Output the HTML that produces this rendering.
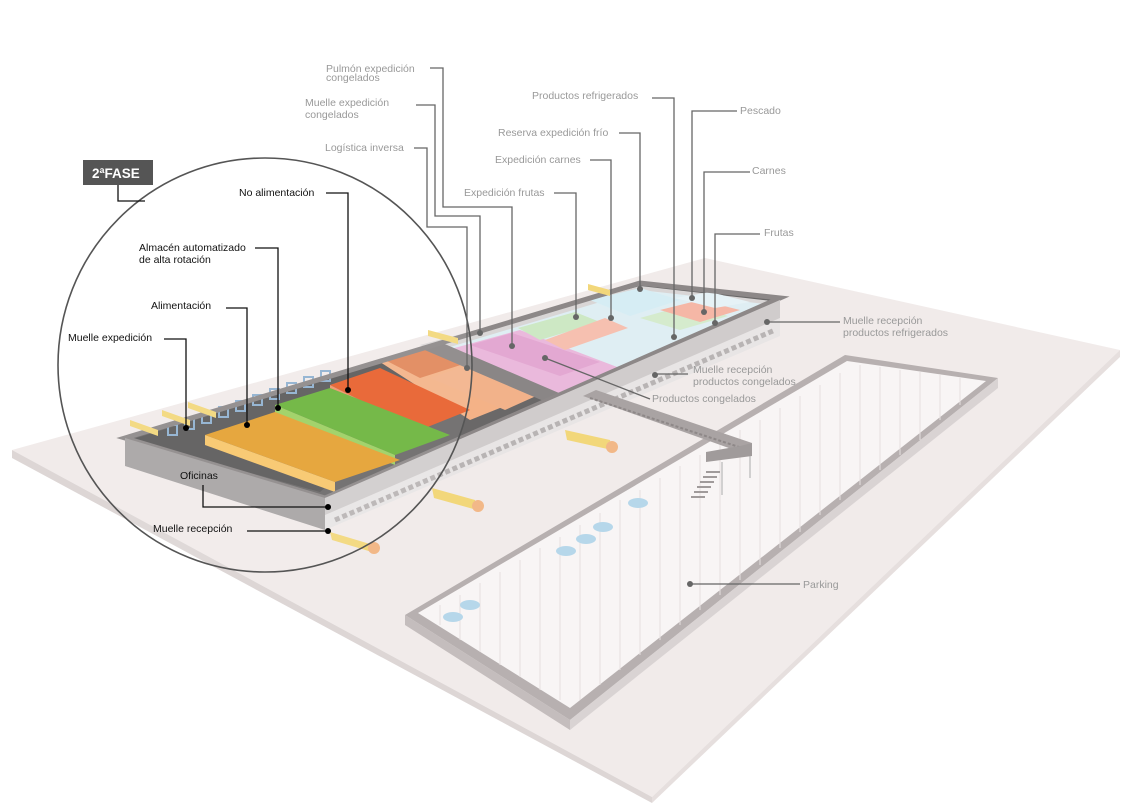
<!DOCTYPE html>
<html><head><meta charset="utf-8"><style>
html,body{margin:0;padding:0;background:#fff;}
svg{display:block;}
text{font-family:"Liberation Sans",sans-serif;font-size:10.5px;}
.g{fill:#999;}
.k{fill:#111;}
.lg{stroke:#666;stroke-width:1.3;fill:none;}
.lk{stroke:#111;stroke-width:1.3;fill:none;}
</style></head><body>
<svg width="1143" height="803" viewBox="0 0 1143 803" xmlns="http://www.w3.org/2000/svg">
<!-- ground -->
<polygon points="12,450 705,258 1120,350 652,797" fill="#f1ebea"/>
<polygon points="12,450 652,797 652,803 12,458" fill="#ddd6d5"/>
<polygon points="652,797 1120,350 1120,357 652,803" fill="#e6dfde"/>

<!-- warehouse -->
<polygon points="125,438 640,283 780,298 325,498" fill="#6a6868"/>
<polygon points="420,345 640,286 772,301 560,402" fill="#d9d6d6"/>
<polygon points="440,350 640,290 765,304 570,392" fill="#dfeef3"/>
<polygon points="440,352 520,330 625,370 545,400" fill="#eab9dc"/>
<polygon points="470,345 512,333 600,362 560,376" fill="#e3a8d2"/>
<polygon points="518,328 575,312 600,322 540,340" fill="#cde8c4"/>
<polygon points="545,340 605,318 628,328 565,350" fill="#f6c0b0"/>
<polygon points="590,300 640,288 680,300 630,316" fill="#d6edf4"/>
<polygon points="640,318 690,304 728,316 680,330" fill="#d5ebcd"/>
<polygon points="660,310 700,300 740,310 700,322" fill="#f5b7a6"/>
<polygon points="675,298 710,292 750,302 715,308" fill="#e6f2f6"/>
<polygon points="130,440 420,350 470,360 320,492" fill="#5a5858"/>
<polygon points="380,362 430,346 540,392 470,420" fill="#f4b287"/>
<polygon points="385,360 430,348 470,362 420,378" fill="#e1875a"/>
<polygon points="430,378 470,364 545,392 505,410" fill="#f2b28a"/>
<polygon points="330,385 380,368 470,410 420,430" fill="#e85e2a"/>
<polygon points="330,385 420,430 420,440 330,395" fill="#f0936b"/>
<polygon points="275,405 330,388 450,435 395,455" fill="#6ab43a"/>
<polygon points="275,405 395,455 395,465 275,415" fill="#9cd060"/>
<polygon points="205,435 275,412 400,460 335,482" fill="#e4a02f"/>
<polygon points="205,435 335,482 335,492 205,445" fill="#f8c66a"/>
<g fill="none" stroke="#8fb0d0" stroke-width="2">
<rect x="168" y="425" width="9" height="10"/><rect x="185" y="419" width="9" height="10"/><rect x="202" y="413" width="9" height="10"/>
<rect x="219" y="407" width="9" height="10"/><rect x="236" y="401" width="9" height="10"/><rect x="253" y="395" width="9" height="10"/>
<rect x="270" y="389" width="9" height="10"/><rect x="287" y="383" width="9" height="10"/><rect x="304" y="377" width="9" height="10"/><rect x="321" y="371" width="9" height="10"/>
</g>
<polygon points="420,348 440,342 580,402 560,408" fill="#8a8686"/>
<polygon points="125,438 640,283 780,298 325,498" fill="none" stroke="#8d8888" stroke-width="5"/>
<polygon points="125,438 325,498 325,530 125,466" fill="#a7a3a3"/>
<polygon points="325,498 780,318 780,336 325,530" fill="#e8e5e5"/>
<polygon points="325,498 780,300 780,318 325,515" fill="#d0cccc"/>
<path d="M335,520 L775,330" stroke="#b8b4b4" stroke-width="5" stroke-dasharray="5,3" fill="none"/>

<!-- parking -->
<polygon points="405,615 845,355 998,378 570,720" fill="#b7b0b0"/>
<polygon points="405,615 570,720 570,730 405,625" fill="#c4bdbd"/>
<polygon points="570,720 998,378 998,388 570,730" fill="#d9d3d3"/>
<polygon points="418,613 847,361 986,381 570,708" fill="#f8f5f5"/>
<g stroke="#e6e0e0" stroke-width="1">
<path d="M440,605V625M460,595V640M480,583V652M500,572V665M520,560V677M540,548V690M560,537V700M580,525V700M600,513V685M620,500V670M640,490V655M660,478V640M680,466V625M700,455V610M720,443V595M740,430V580M760,420V565M780,408V548M800,396V532M820,385V515M840,373V500M860,365V485M880,367V470M900,370V455M920,372V440M940,375V420M960,378V405"/>
</g>
<!-- bridge -->
<polygon points="583,396 596,390 752,443 740,452" fill="#a9a3a3"/>
<path d="M590,398 L742,448" stroke="#8e8888" stroke-width="2" stroke-dasharray="3,2"/>
<polygon points="706,452 740,446 752,443 752,456 706,462" fill="#a09b9b"/>
<line x1="750" y1="456" x2="750" y2="478" stroke="#aaa"/>
<line x1="722" y1="462" x2="722" y2="495" stroke="#aaa"/>
<g stroke="#a09b9b" stroke-width="2">
<path d="M706,472h14M703,477h14M700,482h14M697,487h14M694,492h14M691,497h14"/>
</g>
<!-- cars -->
<g fill="#b6d7ea">
<ellipse cx="638" cy="503" rx="10" ry="5"/><ellipse cx="603" cy="527" rx="10" ry="5"/><ellipse cx="586" cy="539" rx="10" ry="5"/><ellipse cx="566" cy="551" rx="10" ry="5"/>
<ellipse cx="470" cy="605" rx="10" ry="5"/><ellipse cx="453" cy="617" rx="10" ry="5"/>
</g>
<!-- trucks -->
<g fill="#f2d77a">
<polygon points="565,430 610,440 612,450 567,440"/>
<polygon points="432,488 475,500 477,510 434,498"/>
<polygon points="330,532 370,544 372,552 332,540"/>
<polygon points="130,420 158,430 158,436 130,426"/>
<polygon points="162,410 190,420 190,426 162,416"/>
<polygon points="188,402 216,412 216,418 188,408"/>
<polygon points="428,330 458,338 458,344 428,336"/>
<polygon points="588,284 610,290 610,296 588,290"/>
</g>
<g fill="#f2b888"><circle cx="612" cy="447" r="6"/><circle cx="478" cy="506" r="6"/><circle cx="374" cy="548" r="6"/></g>

<circle cx="265" cy="365" r="207" fill="rgba(255,255,255,0.08)" stroke="#555" stroke-width="1.6"/>

<rect x="83" y="160" width="70" height="25" fill="#555"/>
<text x="92" y="178" fill="#fff" style="font-size:13.5px;font-weight:bold">2ªFASE</text>
<path d="M118,185V201H145" class="lk" stroke="#555"/>

<text class="k" x="239" y="196">No alimentación</text>
<path class="lk" d="M326,193H348V389"/><circle cx="348" cy="390" r="3"/>
<text class="k" x="139" y="251">Almacén automatizado</text>
<text class="k" x="139" y="263">de alta rotación</text>
<path class="lk" d="M255,248H278V407"/><circle cx="278" cy="408" r="3"/>
<text class="k" x="151" y="309">Alimentación</text>
<path class="lk" d="M226,308H247V424"/><circle cx="247" cy="425" r="3"/>
<text class="k" x="68" y="341">Muelle expedición</text>
<path class="lk" d="M164,339H186V427"/><circle cx="186" cy="428" r="3"/>
<text class="k" x="180" y="479">Oficinas</text>
<path class="lk" d="M203,485V507H328"/><circle cx="328" cy="507" r="3"/>
<text class="k" x="153" y="532">Muelle recepción</text>
<path class="lk" d="M247,531H328"/><circle cx="328" cy="531" r="3"/>

<g fill="#666">
<text class="g" x="326" y="72">Pulmón expedición</text><text class="g" x="326" y="81">congelados</text>
<path class="lg" d="M430,68H443V207H512V345"/><circle cx="512" cy="346" r="3"/>
<text class="g" x="305" y="106">Muelle expedición</text><text class="g" x="305" y="118">congelados</text>
<path class="lg" d="M416,105H435V216H480V332"/><circle cx="480" cy="333" r="3"/>
<text class="g" x="325" y="151">Logística inversa</text>
<path class="lg" d="M414,148H427V227H467V367"/><circle cx="467" cy="368" r="3"/>
<text class="g" x="464" y="196">Expedición frutas</text>
<path class="lg" d="M554,193H576V316"/><circle cx="576" cy="317" r="3"/>
<text class="g" x="495" y="163">Expedición carnes</text>
<path class="lg" d="M590,160H611V317"/><circle cx="611" cy="318" r="3"/>
<text class="g" x="498" y="136">Reserva expedición frío</text>
<path class="lg" d="M619,133H640V288"/><circle cx="640" cy="289" r="3"/>
<text class="g" x="532" y="99">Productos refrigerados</text>
<path class="lg" d="M652,98H674V336"/><circle cx="674" cy="337" r="3"/>
<text class="g" x="740" y="114">Pescado</text>
<path class="lg" d="M737,111H692V297"/><circle cx="692" cy="298" r="3"/>
<text class="g" x="752" y="174">Carnes</text>
<path class="lg" d="M750,172H704V311"/><circle cx="704" cy="312" r="3"/>
<text class="g" x="764" y="236">Frutas</text>
<path class="lg" d="M760,234H715V322"/><circle cx="715" cy="323" r="3"/>
<text class="g" x="843" y="324">Muelle recepción</text><text class="g" x="843" y="336">productos refrigerados</text>
<path class="lg" d="M840,322H767"/><circle cx="767" cy="322" r="3"/>
<text class="g" x="693" y="373">Muelle recepción</text><text class="g" x="693" y="385">productos congelados</text>
<path class="lg" d="M688,374H655"/><circle cx="655" cy="375" r="3"/>
<text class="g" x="652" y="402">Productos congelados</text>
<path class="lg" d="M650,399L545,358"/><circle cx="545" cy="358" r="3"/>
<text class="g" x="803" y="588">Parking</text>
<path class="lg" d="M800,584H690"/><circle cx="690" cy="584" r="3"/>
</g>
</svg>
</body></html>
